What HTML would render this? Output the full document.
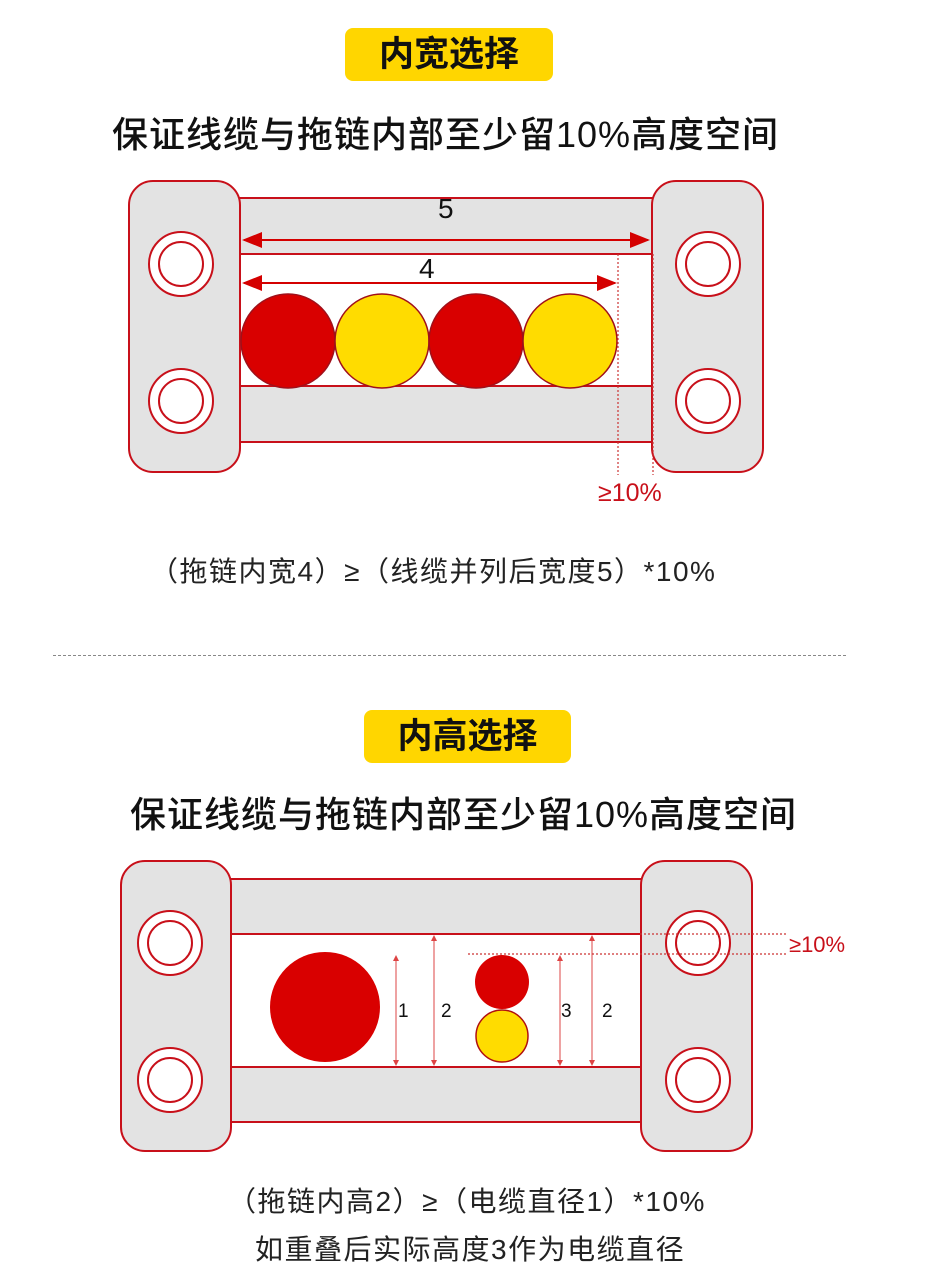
<!DOCTYPE html>
<html><head><meta charset="utf-8"><style>
body{margin:0;width:946px;height:1280px;background:#fff;overflow:hidden;font-family:"Liberation Sans","Noto Sans CJK SC",sans-serif;position:relative}
.t{position:absolute;white-space:nowrap;color:#111}
.badge{position:absolute;background:#ffd600;border-radius:8px;font-weight:bold;font-size:35px;text-align:center;color:#111}
</style></head><body>
<div class="badge" style="left:345px;top:28px;width:208px;height:53px;line-height:53px">内宽选择</div>
<div class="t" style="left:112px;top:106px;font-size:36px;font-weight:500;letter-spacing:1px">保证线缆与拖链内部至少留10%高度空间</div>
<div class="t" style="left:150px;top:550px;font-size:28px;color:#222;letter-spacing:1.5px">（拖链内宽4）≥（线缆并列后宽度5）*10%</div>
<div style="position:absolute;left:53px;top:655px;width:793px;border-top:1px dashed #888"></div>
<div class="badge" style="left:364px;top:710px;width:207px;height:53px;line-height:53px">内高选择</div>
<div class="t" style="left:130px;top:786px;font-size:36px;font-weight:500;letter-spacing:1px">保证线缆与拖链内部至少留10%高度空间</div>
<div class="t" style="left:228px;top:1180px;font-size:28px;color:#222;letter-spacing:1.5px">（拖链内高2）≥（电缆直径1）*10%</div>
<div class="t" style="left:255px;top:1228px;font-size:28px;color:#222;letter-spacing:1.5px">如重叠后实际高度3作为电缆直径</div>
<svg width="946" height="1280" style="position:absolute;left:0;top:0">
<defs><marker id="a" markerWidth="10" markerHeight="8" refX="9" refY="4" orient="auto-start-reverse"><path d="M0,0 L10,4 L0,8 z" fill="#d40000"/></marker>
<marker id="b" markerWidth="6" markerHeight="6" refX="5" refY="3" orient="auto-start-reverse"><path d="M0,0 L6,3 L0,6 z" fill="#d44"/></marker></defs>
<g stroke="#c8101a" stroke-width="2" fill="#e3e3e3">
<rect x="238" y="198" width="416" height="56"/><rect x="238" y="386" width="416" height="56"/>
<rect x="129" y="181" width="111" height="291" rx="24"/><rect x="652" y="181" width="111" height="291" rx="24"/>
<g fill="#fff"><circle cx="181" cy="264" r="32"/><circle cx="181" cy="264" r="22"/><circle cx="181" cy="401" r="32"/><circle cx="181" cy="401" r="22"/>
<circle cx="708" cy="264" r="32"/><circle cx="708" cy="264" r="22"/><circle cx="708" cy="401" r="32"/><circle cx="708" cy="401" r="22"/></g>
</g>
<g stroke="#a0101a" stroke-width="1.5"><circle cx="288" cy="341" r="47" fill="#d90000"/><circle cx="382" cy="341" r="47" fill="#ffdc00"/><circle cx="476" cy="341" r="47" fill="#d90000"/><circle cx="570" cy="341" r="47" fill="#ffdc00"/></g>
<g stroke="#d40000" stroke-width="2"><line x1="244" y1="240" x2="648" y2="240" marker-start="url(#a)" marker-end="url(#a)"/><line x1="244" y1="283" x2="615" y2="283" marker-start="url(#a)" marker-end="url(#a)"/></g>
<text x="438" y="218" font-size="28" fill="#111" font-family="Liberation Sans">5</text>
<text x="419" y="278" font-size="28" fill="#111" font-family="Liberation Sans">4</text>
<g stroke="#c33" stroke-width="1.2" stroke-dasharray="2,2"><line x1="618" y1="254" x2="618" y2="475"/><line x1="653" y1="254" x2="653" y2="475"/></g>
<text x="598" y="501" font-size="25" fill="#c8101a" font-family="Liberation Sans">≥10%</text>

<g stroke="#c8101a" stroke-width="2" fill="#e3e3e3">
<rect x="229" y="879" width="414" height="55"/><rect x="229" y="1067" width="414" height="55"/>
<rect x="121" y="861" width="110" height="290" rx="24"/><rect x="641" y="861" width="111" height="290" rx="24"/>
<g fill="#fff"><circle cx="170" cy="943" r="32"/><circle cx="170" cy="943" r="22"/><circle cx="170" cy="1080" r="32"/><circle cx="170" cy="1080" r="22"/>
<circle cx="698" cy="943" r="32"/><circle cx="698" cy="943" r="22"/><circle cx="698" cy="1080" r="32"/><circle cx="698" cy="1080" r="22"/></g>
</g>
<circle cx="325" cy="1007" r="55" fill="#d90000"/>
<circle cx="502" cy="982" r="27" fill="#d90000"/>
<circle cx="502" cy="1036" r="26" fill="#ffdc00" stroke="#b01010" stroke-width="1.5"/>
<g stroke="#d44" stroke-width="1"><line x1="396" y1="956" x2="396" y2="1065" marker-start="url(#b)" marker-end="url(#b)"/><line x1="434" y1="936" x2="434" y2="1065" marker-start="url(#b)" marker-end="url(#b)"/><line x1="560" y1="956" x2="560" y2="1065" marker-start="url(#b)" marker-end="url(#b)"/><line x1="592" y1="936" x2="592" y2="1065" marker-start="url(#b)" marker-end="url(#b)"/></g>
<g font-size="19" fill="#111" font-family="Liberation Sans"><text x="398" y="1017">1</text><text x="441" y="1017">2</text><text x="561" y="1017">3</text><text x="602" y="1017">2</text></g>
<g stroke="#c33" stroke-width="1.2" stroke-dasharray="2,2"><line x1="640" y1="934" x2="788" y2="934"/><line x1="468" y1="954" x2="788" y2="954"/></g>
<text x="789" y="952" font-size="22" fill="#c8101a" font-family="Liberation Sans">≥10%</text>
</svg>
</body></html>
